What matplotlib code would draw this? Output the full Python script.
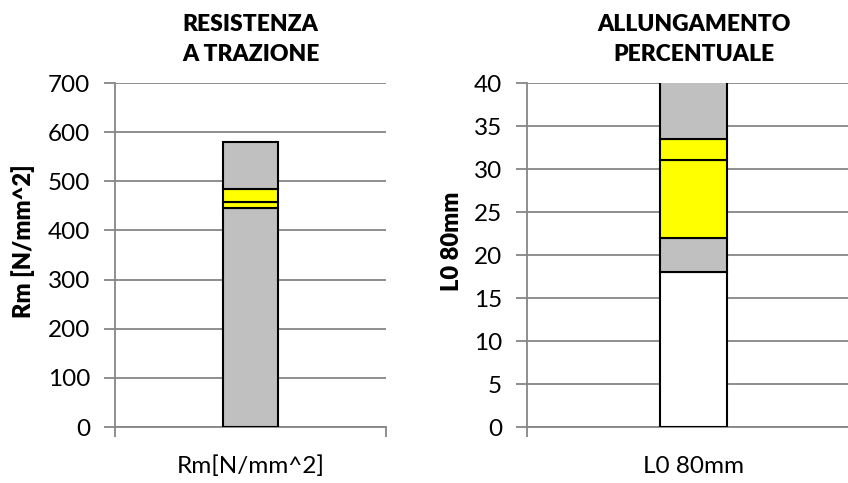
import numpy as np
import matplotlib.pyplot as plt

plt.rcParams['font.family'] = ['Lato', 'DejaVu Sans']

# segment boundaries of the stacked bars (bottom -> top)
rm_bounds = [0, 445, 458, 485, 580]
rm_colors = ['#C0C0C0', '#FFFF00', '#FFFF00', '#C0C0C0']
rm_ticks = [0, 100, 200, 300, 400, 500, 600, 700]

l0_bounds = [0, 18, 22, 31, 33.5, 45]
l0_colors = ['#FFFFFF', '#C0C0C0', '#FFFF00', '#FFFF00', '#C0C0C0']
l0_ticks = [0, 5, 10, 15, 20, 25, 30, 35, 40]

grid_col = '#868686'

fig = plt.figure(figsize=(8.48, 4.83), dpi=100)
ax1 = fig.add_axes([0.1356, 0.1159, 0.3196, 0.7122])
ax2 = fig.add_axes([0.6215, 0.1159, 0.3927, 0.7122])


def draw(ax, bounds, colors, ticks, title, ylabel, xlabel, ylab_x):
    b = np.array(bounds, dtype=float)
    ax.bar([0.5] * (len(b) - 1), np.diff(b), bottom=b[:-1], width=0.2,
           color=colors, edgecolor='black', linewidth=1.5, zorder=3)
    ax.set_xlim(0, 1)
    ax.set_ylim(ticks[0], ticks[-1])
    ax.set_yticks(ticks)
    ax.set_xticks([0, 1])
    ax.set_xticklabels([])
    ax.grid(axis='y', color=grid_col, linewidth=1.3, zorder=0)
    ax.set_axisbelow(True)
    for s in ['top', 'right']:
        ax.spines[s].set_visible(False)
    for s in ['left', 'bottom']:
        ax.spines[s].set_color(grid_col)
        ax.spines[s].set_linewidth(1.3)
    ax.tick_params(axis='y', direction='out', length=8, width=1.3,
                   color=grid_col, labelsize=17.5, pad=10)
    ax.tick_params(axis='x', direction='out', length=7, width=1.3,
                   color=grid_col)
    ax.set_title(title, fontsize=16.5, fontweight='heavy', pad=16,
                 linespacing=1.5)
    ax.set_ylabel(ylabel, fontsize=17, fontweight='heavy')
    ax.yaxis.set_label_coords(ylab_x, 0.5, transform=fig.transFigure)
    ax.text(0.5, -0.115, xlabel, transform=ax.transAxes, ha='center',
            va='center', fontsize=17.5)


draw(ax1, rm_bounds, rm_colors, rm_ticks, 'RESISTENZA\nA TRAZIONE',
     'Rm [N/mm^2]', 'Rm[N/mm^2]', 35 / 848)
draw(ax2, l0_bounds, l0_colors, l0_ticks, 'ALLUNGAMENTO\nPERCENTUALE',
     'L0 80mm', 'L0 80mm', 463 / 848)

fig.savefig('out.png', dpi=100)
